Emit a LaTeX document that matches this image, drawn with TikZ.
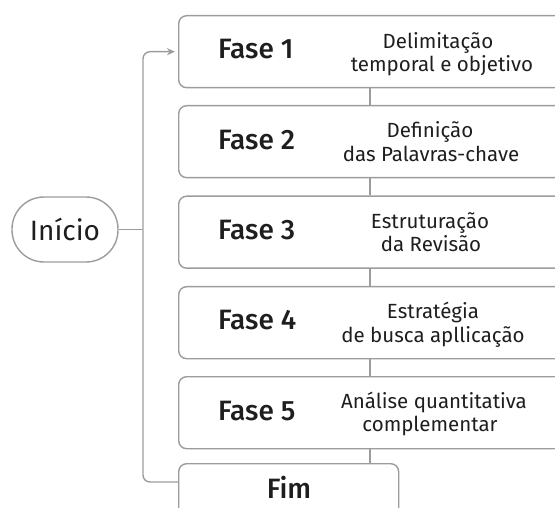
\documentclass[tikz,border=0pt]{standalone}
\usepackage{fontspec}
\setmainfont{Fira Sans}[BoldFont={Fira Sans Medium}]
\usetikzlibrary{arrows.meta}
\definecolor{linegray}{HTML}{9C9C9C}
\definecolor{ink}{HTML}{1E1E1E}
\tikzset{
  box/.style={draw=linegray, line width=1.4pt, rounded corners=8pt, anchor=north west, inner sep=0pt},
  conn/.style={draw=linegray, line width=1.4pt},
  fase/.style={anchor=base west, font=\bfseries\fontsize{28}{32}\selectfont, text=ink, inner sep=0pt},
  desc/.style={anchor=base, font=\fontsize{20.5}{24}\selectfont, text=ink, inner sep=0pt},
}
\begin{document}
\begin{tikzpicture}[x=1pt,y=-1pt]
\useasboundingbox (0,0) rectangle (555,508);
\clip (0,0) rectangle (555,508);
% start node
\node[draw=linegray, line width=1.4pt, rounded corners=32pt, minimum width=106pt, minimum height=65pt, inner sep=0pt,
      font=\fontsize{28}{32}\selectfont, text=ink] (inicio) at (65,229.5) {Início};
% phase boxes
\node[box, minimum width=400pt, minimum height=72pt] (f1) at (178,15) {};
\node[box, minimum width=400pt, minimum height=72pt] (f2) at (178,105) {};
\node[box, minimum width=400pt, minimum height=72pt] (f3) at (178,195.5) {};
\node[box, minimum width=400pt, minimum height=72pt] (f4) at (178,286) {};
\node[box, minimum width=400pt, minimum height=72pt] (f5) at (178,376) {};
\node[box, minimum width=220pt, minimum height=70pt] (fim) at (178,463) {};
% texts
\node[fase] (t1) at (218,59) {Fase 1};
\node[desc] (d1a) at (438,49) {Delimitação};
\node[desc] (d1b) at (442,71.5) {temporal e objetivo};
\node[fase] (t2) at (218,150) {Fase 2};
\node[desc] (d2a) at (430,138) {Definição};
\node[desc] (d2b) at (431,162) {das Palavras-chave};
\node[fase] (t3) at (218,240) {Fase 3};
\node[desc] (d3a) at (430,229) {Estruturação};
\node[desc] (d3b) at (431,252) {da Revisão};
\node[fase] (t4) at (218,330) {Fase 4};
\node[desc] (d4a) at (433,319) {Estratégia};
\node[desc] (d4b) at (433,342) {de busca apllicação};
\node[fase] (t5) at (218,420) {Fase 5};
\node[desc] (d5a) at (434,408) {Análise quantitativa};
\node[desc] (d5b) at (430,431) {complementar};
\node[fase, anchor=base] (tf) at (289,498) {Fim};
% vertical connectors between phases
\foreach \a/\b in {f1/f2,f2/f3,f3/f4,f4/f5,f5/fim}{
  \draw[conn] ([xshift=192pt]\a.south west) -- ([xshift=192pt]\b.north west);
}
% left bus
\coordinate (j) at (143,229.5);
\draw[conn] (inicio.east) -- (j);
\draw[conn, rounded corners=7pt, -{Stealth[length=8pt,width=7pt]}, shorten >=3pt] (j) |- (f1.west);
\draw[conn, rounded corners=7pt] (j) |- ([yshift=-19pt]fim.north west);
\end{tikzpicture}
\end{document}
